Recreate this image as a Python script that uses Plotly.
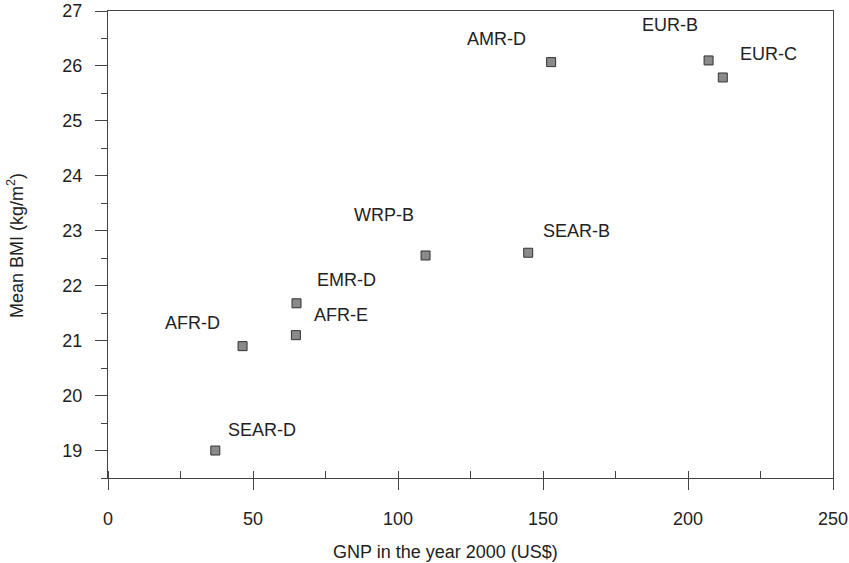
import plotly.graph_objects as go

regions = ["SEAR-D", "AFR-D", "AFR-E", "EMR-D", "WRP-B", "SEAR-B", "AMR-D", "EUR-B", "EUR-C"]
gnp = [37.0, 46.4, 64.8, 65.0, 109.5, 144.9, 152.8, 207.1, 212.0]
bmi = [19.0, 20.9, 21.1, 21.68, 22.55, 22.6, 26.07, 26.1, 25.79]
label_x = [53.1, 29.3, 80.3, 82.1, 95.2, 161.7, 133.8, 193.8, 227.6]
label_y = [19.38, 21.32, 21.47, 22.10, 23.29, 23.0, 26.49, 26.745, 26.217]

x_ticks = [0, 50, 100, 150, 200, 250]
y_ticks = [19, 20, 21, 22, 23, 24, 25, 26, 27]

FONT = "Liberation Sans, Arial, Helvetica, sans-serif"
TXT = "#222222"
AX = "#444444"
FS = 18

fig = go.Figure()
fig.add_trace(go.Scatter(
    x=gnp, y=bmi, mode="markers",
    marker=dict(symbol="square", size=9, color="#8a8a8a",
                line=dict(color="#333333", width=1)),
    hoverinfo="text", text=regions, showlegend=False,
))

for name, lx, ly in zip(regions, label_x, label_y):
    fig.add_annotation(x=lx, y=ly, xref="x", yref="y", text=name,
                       showarrow=False, xanchor="center", yanchor="middle",
                       font=dict(family=FONT, size=FS, color=TXT))

fig.update_layout(
    width=849, height=563,
    margin=dict(l=108, r=16, t=11, b=85, autoexpand=False),
    paper_bgcolor="white", plot_bgcolor="white",
    font=dict(family=FONT, size=FS, color=TXT),
    xaxis=dict(
        range=[0, 250], tickvals=x_ticks, ticktext=[str(v) for v in x_ticks],
        showgrid=False, zeroline=False, automargin=False,
        showline=True, linecolor=AX, linewidth=1.3, mirror=True,
        ticks="outside", ticklen=11, tickwidth=1.3, tickcolor=AX,
        ticklabelstandoff=13,
        minor=dict(dtick=25, tick0=0, ticks="inside", ticklen=7, tickwidth=1.3, tickcolor=AX, showgrid=False),
        tickfont=dict(family=FONT, size=FS, color=TXT),
    ),
    yaxis=dict(
        range=[18.5, 27], tickvals=y_ticks, ticktext=[str(v) for v in y_ticks],
        showgrid=False, zeroline=False, automargin=False,
        showline=True, linecolor=AX, linewidth=1.3, mirror=True,
        ticks="outside", ticklen=12, tickwidth=1.3, tickcolor=AX,
        ticklabelstandoff=9,
        minor=dict(dtick=0.5, tick0=18.5, ticks="outside", ticklen=6, tickwidth=1.3, tickcolor=AX, showgrid=False),
        tickfont=dict(family=FONT, size=FS, color=TXT),
    ),
)

def px_to_paper_x(px):
    return (px - 108) / (849 - 108 - 16)

def px_to_paper_y(py):
    return (563 - 85 - py) / (563 - 85 - 11)

fig.add_annotation(x=px_to_paper_x(445), y=px_to_paper_y(552), xref="paper", yref="paper",
                   text="GNP in the year 2000 (US$)", showarrow=False,
                   xanchor="center", yanchor="middle",
                   font=dict(family=FONT, size=FS, color=TXT))
fig.add_annotation(x=px_to_paper_x(15), y=px_to_paper_y(246), xref="paper", yref="paper",
                   text="Mean BMI (kg/m<sup>2</sup>)", showarrow=False, textangle=-90,
                   xanchor="center", yanchor="middle",
                   font=dict(family=FONT, size=FS, color=TXT))

fig.write_html("out.html")
